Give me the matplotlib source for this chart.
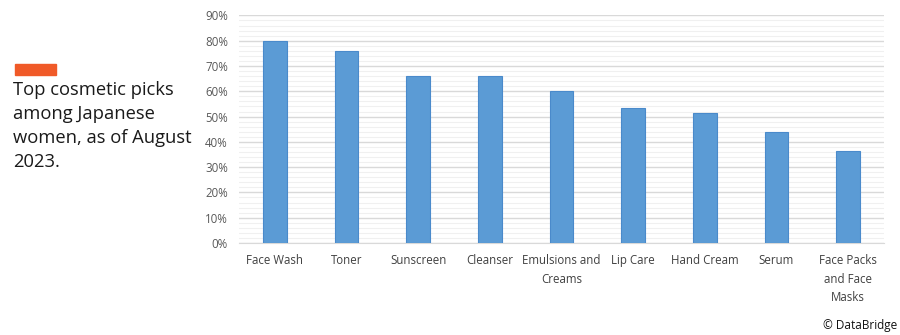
import matplotlib.pyplot as plt
import matplotlib.patches as mpatches
from matplotlib.ticker import MultipleLocator, PercentFormatter

# Data
categories = ['Face Wash', 'Toner', 'Sunscreen', 'Cleanser', 'Emulsions and\nCreams',
              'Lip Care', 'Hand Cream', 'Serum', 'Face Packs\nand Face\nMasks']
shares = [80.0, 76.0, 66.2, 65.9, 60.0, 53.5, 51.4, 43.8, 36.2]

title_text = 'Top cosmetic picks\namong Japanese\nwomen, as of August\n2023.'
source_text = '\u00a9 DataBridge'

tick_font = ['Liberation Sans Narrow', 'Open Sans', 'DejaVu Sans']

fig = plt.figure(figsize=(9, 3.35), dpi=100)
ax = fig.add_axes([0.2656, 0.2746, 0.7165, 0.6794])

ax.bar(range(len(categories)), shares, width=0.33, color='#5B9BD5',
       edgecolor='#4A8ACB', linewidth=0.8, zorder=3)

ax.set_xlim(-0.5, len(categories) - 0.5)
ax.set_ylim(0, 90)
ax.yaxis.set_major_locator(MultipleLocator(10))
ax.yaxis.set_minor_locator(MultipleLocator(2))
ax.yaxis.set_major_formatter(PercentFormatter(decimals=0))
ax.grid(axis='y', which='major', color='#d9d9d9', linewidth=1.0, zorder=0)
ax.grid(axis='y', which='minor', color='#f0f0f0', linewidth=0.8, zorder=0)

for s in ['top', 'right', 'left']:
    ax.spines[s].set_visible(False)
ax.spines['bottom'].set_color('#d9d9d9')

ax.set_xticks(range(len(categories)))
ax.set_xticklabels(categories, fontsize=8.3, color='#404040', family=tick_font,
                   linespacing=1.55, va='top')
ax.tick_params(axis='x', length=0, pad=8)
ax.tick_params(axis='y', which='both', length=0, pad=8, labelsize=8.3, labelcolor='#595959')
for lab in ax.get_yticklabels():
    lab.set_family(tick_font)

# orange marker and side title
fig.patches.append(mpatches.Rectangle((15 / 900, 1 - 74.5 / 335), 41 / 900, 10.5 / 335,
                                      transform=fig.transFigure, color='#F05A28'))
fig.text(13 / 900, 1 - 81 / 335, title_text, fontsize=13.2, color='#1a1a1a',
         family=['Open Sans', 'DejaVu Sans'], va='top', ha='left', linespacing=1.42)

fig.text(897 / 900, 1 - 326 / 335, source_text, fontsize=8.5, color='#111111',
         family=['Open Sans', 'DejaVu Sans'], ha='right', va='center')

fig.savefig('out.png', dpi=100)
